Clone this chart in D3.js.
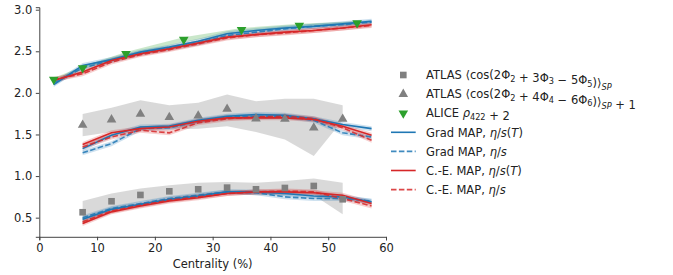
<!DOCTYPE html>
<html>
<head>
<meta charset="utf-8">
<script src="https://cdn.jsdelivr.net/npm/d3@7"></script>
<style>
  body { margin: 0; background: #fff; }
  svg { font-family: "DejaVu Sans", sans-serif; }
</style>
</head>
<body>
<svg id="chart" width="673" height="275"></svg>
<script>
// centrality bins
const centTop = [2.5, 7.5, 12.5, 17.5, 22.5, 27.5, 32.5, 37.5, 42.5, 47.5, 52.5, 57.5];
const centModel = [7.5, 12.5, 17.5, 22.5, 27.5, 32.5, 37.5, 42.5, 47.5, 52.5, 57.5];
const centAtlas = [7.5, 12.5, 17.5, 22.5, 27.5, 32.5, 37.5, 42.5, 47.5, 52.5];
const centAlice = [2.5, 7.5, 15, 25, 35, 45, 55];

// ATLAS <cos(2Phi2+3Phi3-5Phi5)>
const atlas235 = [0.565, 0.697, 0.773, 0.817, 0.841, 0.861, 0.841, 0.857, 0.881, 0.721];
const atlas235Hi = [0.70, 0.79, 0.85, 0.89, 0.92, 0.93, 0.92, 0.94, 0.97, 0.92];
const atlas235Lo = [0.42, 0.60, 0.69, 0.74, 0.76, 0.79, 0.77, 0.77, 0.77, 0.54];

// ATLAS <cos(2Phi2+4Phi4-6Phi6)> + 1
const atlas246 = [1.614, 1.678, 1.746, 1.707, 1.726, 1.806, 1.69, 1.686, 1.58, 1.686];
const atlas246Hi = [1.746, 1.82, 1.91, 1.85, 1.88, 1.98, 1.90, 1.93, 1.93, 1.85];
const atlas246Lo = [1.48, 1.53, 1.58, 1.56, 1.57, 1.60, 1.53, 1.44, 1.24, 1.67];

// ALICE rho422 + 2
const alice422 = [2.16, 2.30, 2.47, 2.64, 2.76, 2.81, 2.84];
const alice422Err = [0.02, 0.02, 0.02, 0.03, 0.02, 0.02, 0.02];

// models, top group (rho422 + 2)
const gradT_top = [2.10, 2.33, 2.40, 2.49, 2.55, 2.62, 2.71, 2.75, 2.78, 2.80, 2.83, 2.86];
const gradC_top = [2.12, 2.30, 2.39, 2.48, 2.54, 2.60, 2.69, 2.73, 2.77, 2.80, 2.82, 2.85];
const ceT_top = [2.15, 2.25, 2.39, 2.47, 2.53, 2.60, 2.67, 2.70, 2.73, 2.75, 2.78, 2.82];
const ceC_top = [2.16, 2.23, 2.37, 2.46, 2.52, 2.59, 2.66, 2.70, 2.72, 2.75, 2.78, 2.81];

// middle group (246 + 1)
const gradT_mid = [1.33, 1.49, 1.59, 1.60, 1.67, 1.72, 1.74, 1.73, 1.69, 1.62, 1.57];
const gradC_mid = [1.28, 1.39, 1.57, 1.58, 1.66, 1.71, 1.72, 1.72, 1.67, 1.52, 1.47];
const ceT_mid = [1.38, 1.52, 1.57, 1.59, 1.66, 1.70, 1.70, 1.70, 1.68, 1.60, 1.49];
const ceC_mid = [1.35, 1.47, 1.55, 1.52, 1.64, 1.69, 1.71, 1.72, 1.69, 1.58, 1.43];

// lower group (235)
const gradT_low = [0.48, 0.60, 0.66, 0.72, 0.76, 0.81, 0.81, 0.79, 0.76, 0.75, 0.69];
const gradC_low = [0.50, 0.61, 0.67, 0.73, 0.77, 0.81, 0.80, 0.75, 0.73, 0.73, 0.70];
const ceT_low = [0.43, 0.57, 0.64, 0.70, 0.74, 0.79, 0.81, 0.81, 0.80, 0.77, 0.67];
const ceC_low = [0.45, 0.58, 0.65, 0.71, 0.75, 0.79, 0.81, 0.82, 0.81, 0.73, 0.64];

const xTicks = [0, 10, 20, 30, 40, 50, 60];
const yTicks = [0.5, 1.0, 1.5, 2.0, 2.5, 3.0];

const blue = "#1f77b4", red = "#d62728", green = "#2ca02c", grey = "#808080";
const bandErr = 0.03;
const fontSize = "11.5px";

const svg = d3.select("#chart");
const x = d3.scaleLinear().domain([0, 60]).range([39.3, 386]);
const y = d3.scaleLinear().domain([0.27, 3.03]).range([236.8, 7.2]);

function zip(xs, ys) { return xs.map((v, i) => [v, ys[i]]); }

const line = d3.line().x(d => x(d[0])).y(d => y(d[1]));
const area = d3.area().x(d => x(d[0])).y0(d => y(d[1])).y1(d => y(d[2]));

// grey data bands
function greyBand(xs, lo, hi) {
    svg.append("path")
        .datum(xs.map((v, i) => [v, lo[i], hi[i]]))
        .attr("d", area)
        .attr("fill", "#808080")
        .attr("fill-opacity", 0.3);
}
greyBand(centAtlas, atlas235Lo, atlas235Hi);
greyBand(centAtlas, atlas246Lo, atlas246Hi);

// ALICE light band
svg.append("path")
    .datum(centAlice.map((v, i) => [v, alice422[i] - alice422Err[i], alice422[i] + alice422Err[i]]))
    .attr("d", area)
    .attr("fill", green)
    .attr("fill-opacity", 0.25);

// model curves with bands
const models = [
    { xs: centTop, ys: gradT_top, color: blue, dash: null },
    { xs: centTop, ys: gradC_top, color: blue, dash: "5.5,2.4" },
    { xs: centTop, ys: ceT_top, color: red, dash: null },
    { xs: centTop, ys: ceC_top, color: red, dash: "5.5,2.4" },
    { xs: centModel, ys: gradT_mid, color: blue, dash: null },
    { xs: centModel, ys: gradC_mid, color: blue, dash: "5.5,2.4" },
    { xs: centModel, ys: ceT_mid, color: red, dash: null },
    { xs: centModel, ys: ceC_mid, color: red, dash: "5.5,2.4" },
    { xs: centModel, ys: gradT_low, color: blue, dash: null },
    { xs: centModel, ys: gradC_low, color: blue, dash: "5.5,2.4" },
    { xs: centModel, ys: ceT_low, color: red, dash: null },
    { xs: centModel, ys: ceC_low, color: red, dash: "5.5,2.4" }
];

models.forEach(m => {
    svg.append("path")
        .datum(m.xs.map((v, i) => [v, m.ys[i] - bandErr, m.ys[i] + bandErr]))
        .attr("d", area)
        .attr("fill", m.color)
        .attr("fill-opacity", 0.22);
});
models.forEach(m => {
    svg.append("path")
        .datum(zip(m.xs, m.ys))
        .attr("d", line)
        .attr("fill", "none")
        .attr("stroke", m.color)
        .attr("stroke-width", 1.6)
        .attr("stroke-opacity", m.dash ? 0.85 : 1)
        .attr("stroke-dasharray", m.dash);
});

// markers
const sq = d3.symbol().type(d3.symbolSquare).size(44);
const tri = d3.symbol().type(d3.symbolTriangle).size(40);

svg.append("g").selectAll("path")
    .data(zip(centAtlas, atlas235))
    .enter().append("path")
    .attr("d", sq)
    .attr("transform", d => `translate(${x(d[0])},${y(d[1])})`)
    .attr("fill", grey);

svg.append("g").selectAll("path")
    .data(zip(centAtlas, atlas246))
    .enter().append("path")
    .attr("d", tri)
    .attr("transform", d => `translate(${x(d[0])},${y(d[1])})`)
    .attr("fill", grey);

svg.append("g").selectAll("path")
    .data(zip(centAlice, alice422))
    .enter().append("path")
    .attr("d", tri)
    .attr("transform", d => `translate(${x(d[0])},${y(d[1])}) rotate(180)`)
    .attr("fill", green);

// axes
const xAxis = svg.append("g")
    .attr("transform", "translate(0,236.8)")
    .call(d3.axisBottom(x).tickValues(xTicks).tickSize(3.5).tickPadding(3.5).tickFormat(d3.format("d")));
const yAxis = svg.append("g")
    .attr("transform", "translate(39.3,0)")
    .call(d3.axisLeft(y).tickValues(yTicks).tickSize(3.5).tickPadding(3.5).tickFormat(d3.format(".1f")));

[xAxis, yAxis].forEach(a => {
    a.select(".domain").attr("stroke", "#444").attr("stroke-width", 1);
    a.selectAll(".tick line").attr("stroke", "#444");
    a.selectAll(".tick text").attr("fill", "#222").style("font-size", fontSize)
        .style("font-family", "DejaVu Sans, sans-serif");
});

svg.append("text")
    .attr("x", x(30))
    .attr("y", 268)
    .attr("text-anchor", "middle")
    .attr("fill", "#222")
    .style("font-size", fontSize)
    .text("Centrality (%)");

// legend
const legendItems = [
    { kind: "square", color: grey,
      parts: [["ATLAS \u27E8cos(2\u03A6"], ["2", "sub"], [" + 3\u03A6"], ["3", "sub"], [" \u2212 5\u03A6"], ["5", "sub"], [")\u27E9"], ["SP", "subi"]] },
    { kind: "tri", color: grey,
      parts: [["ATLAS \u27E8cos(2\u03A6"], ["2", "sub"], [" + 4\u03A6"], ["4", "sub"], [" \u2212 6\u03A6"], ["6", "sub"], [")\u27E9"], ["SP", "subi"], [" + 1"]] },
    { kind: "tridown", color: green,
      parts: [["ALICE "], ["\u03C1", "i"], ["422", "sub"], [" + 2"]] },
    { kind: "line", color: blue, dash: null,
      parts: [["Grad MAP, "], ["\u03B7", "i"], ["/"], ["s", "i"], ["("], ["T", "i"], [")"]] },
    { kind: "line", color: blue, dash: "5.5,2.4",
      parts: [["Grad MAP, "], ["\u03B7", "i"], ["/"], ["s", "i"]] },
    { kind: "line", color: red, dash: null,
      parts: [["C.-E. MAP, "], ["\u03B7", "i"], ["/"], ["s", "i"], ["("], ["T", "i"], [")"]] },
    { kind: "line", color: red, dash: "5.5,2.4",
      parts: [["C.-E. MAP, "], ["\u03B7", "i"], ["/"], ["s", "i"]] }
];

const legend = svg.append("g").attr("transform", "translate(391,75)");
legendItems.forEach((item, i) => {
    const g = legend.append("g").attr("transform", `translate(0,${i * 19.1})`);
    if (item.kind === "square") {
        g.append("path").attr("d", sq).attr("transform", "translate(12.3,0)").attr("fill", item.color);
    } else if (item.kind === "tri") {
        g.append("path").attr("d", tri).attr("transform", "translate(12.3,0)").attr("fill", item.color);
    } else if (item.kind === "tridown") {
        g.append("path").attr("d", tri).attr("transform", "translate(12.3,0) rotate(180)").attr("fill", item.color);
    } else {
        g.append("line")
            .attr("x1", 0).attr("x2", 24.7).attr("y1", 0).attr("y2", 0)
            .attr("stroke", item.color).attr("stroke-width", 1.6)
            .attr("stroke-opacity", item.dash ? 0.85 : 1)
            .attr("stroke-dasharray", item.dash);
    }
    const t = g.append("text")
        .attr("x", 35)
        .attr("y", 4.2)
        .attr("fill", "#222")
        .style("font-size", fontSize);
    item.parts.forEach(p => {
        const s = t.append("tspan").text(p[0]);
        if (p[1] === "i") s.style("font-style", "italic");
        if (p[1] === "sub" || p[1] === "subi") {
            s.attr("dy", 2.6).style("font-size", "8.2px");
            if (p[1] === "subi") s.style("font-style", "italic");
            // back to baseline for next part
            t.append("tspan").attr("dy", -2.6).text("");
        }
    });
});
</script>
</body>
</html>
